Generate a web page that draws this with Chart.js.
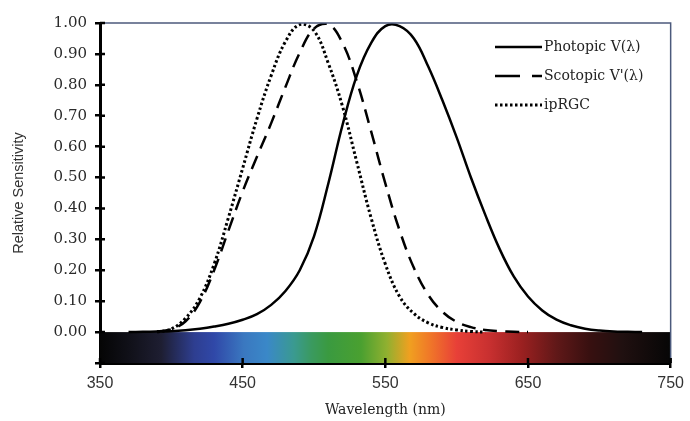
<!DOCTYPE html>
<html>
<head>
<meta charset="utf-8">
<script src="https://cdn.jsdelivr.net/npm/chart.js@4.4.0/dist/chart.umd.min.js"></script>
<style>
  body { margin: 0; background: #fff; }
  #box { width: 690px; height: 421px; }
</style>
</head>
<body>
<div id="box"><canvas id="mycanvas"></canvas></div>
<script>
// wavelength grid (nm)
var wavelengths = [350, 360, 370, 380, 390, 400, 410, 420, 430, 440,
                   450, 460, 470, 480, 490, 500, 510, 520, 530, 540,
                   550, 560, 570, 580, 590, 600, 610, 620, 630, 640,
                   650, 660, 670, 680, 690, 700, 710, 720, 730, 740, 750];

var photopic = [null, null, 0, 0.001, 0.002, 0.003, 0.006, 0.011, 0.018, 0.027,
                0.04, 0.058, 0.088, 0.133, 0.2, 0.31, 0.48, 0.67, 0.83, 0.935,
                0.99, 0.99, 0.95, 0.86, 0.75, 0.63, 0.5, 0.38, 0.27, 0.18,
                0.115, 0.07, 0.04, 0.022, 0.011, 0.005, 0.002, 0.001, 0, null, null];

var scotopic = [null, null, null, null, 0.002, 0.009, 0.035, 0.097, 0.2, 0.328,
                0.455, 0.567, 0.676, 0.793, 0.904, 0.982, 0.997, 0.935, 0.811, 0.65,
                0.481, 0.329, 0.208, 0.121, 0.066, 0.033, 0.016, 0.007, 0.003, 0.001,
                0, null, null, null, null, null, null, null, null, null, null];

var iprgc = [null, null, null, null, 0, 0.01, 0.045, 0.11, 0.22, 0.37,
             0.53, 0.69, 0.83, 0.94, 0.995, 0.975, 0.87, 0.73, 0.55, 0.37,
             0.22, 0.115, 0.06, 0.03, 0.015, 0.007, 0.002, 0, null, null,
             null, null, null, null, null, null, null, null, null, null, null];

var seriesNames = ['Photopic V(\u03bb)', 'Scotopic V\'(\u03bb)', 'ipRGC'];
var xTicks = [350, 450, 550, 650, 750];

function toPoints(vals) {
	var pts = [];
	for (var i = 0; i < wavelengths.length; i++) {
		pts.push({x: wavelengths[i], y: vals[i]});
	}
	return pts;
}

// colour band under the zero line
var spectrumPlugin = {
	id: 'spectrum',
	beforeDatasetsDraw: function(chart) {
		var ctx = chart.ctx, xs = chart.scales.x, ys = chart.scales.y;
		var x0 = xs.getPixelForValue(350), x1 = xs.getPixelForValue(750);
		var y0 = ys.getPixelForValue(0), y1 = ys.getPixelForValue(-0.1);
		var g = ctx.createLinearGradient(x0, 0, x1, 0);
		var stops = [
			[350, '#050505'], [370, '#101018'], [393, '#1e1e32'], [416, '#2e3e90'],
			[430, '#3048a8'], [451, '#3a78c0'], [467, '#3a88c8'], [486, '#3a9a90'],
			[498, '#3a9a60'], [510, '#3a9a40'], [533, '#4aa030'], [551, '#90b030'],
			[567, '#f0a020'], [581, '#f07828'], [600, '#e84038'], [623, '#c83030'],
			[646, '#9a2020'], [670, '#601818'], [693, '#381010'], [716, '#201010'],
			[750, '#060606']
		];
		stops.forEach(function(s) { g.addColorStop((s[0] - 350) / 400, s[1]); });
		ctx.save();
		ctx.fillStyle = g;
		ctx.fillRect(x0, y0, x1 - x0, y1 - y0);
		ctx.restore();
	},
	afterDraw: function(chart) {
		var ctx = chart.ctx, xs = chart.scales.x, ys = chart.scales.y, a = chart.chartArea;
		ctx.save();
		// thin frame top & right
		ctx.strokeStyle = '#4c5a7c';
		ctx.lineWidth = 1.5;
		ctx.beginPath();
		ctx.moveTo(a.left, a.top);
		ctx.lineTo(a.right, a.top);
		ctx.lineTo(a.right, a.bottom);
		ctx.stroke();
		// inner halves of tick marks
		ctx.strokeStyle = '#000';
		ctx.lineWidth = 2.5;
		ctx.beginPath();
		ys.ticks.forEach(function(t) {
			var y = ys.getPixelForValue(t.value);
			ctx.moveTo(a.left, y); ctx.lineTo(a.left + 5, y);
		});
		xTicks.forEach(function(v) {
			var x = xs.getPixelForValue(v);
			ctx.moveTo(x, a.bottom); ctx.lineTo(x, a.bottom - 5);
		});
		ctx.stroke();
		// legend inside the plot
		var lx = 495, lw = 47, ly = 47, step = 29;
		ctx.font = '14px "DejaVu Serif"';
		ctx.fillStyle = '#222';
		ctx.textBaseline = 'middle';
		chart.data.datasets.forEach(function(ds, i) {
			var y = ly + i * step;
			ctx.setLineDash(ds.legendDash || ds.borderDash || []);
			ctx.lineWidth = ds.borderWidth;
			ctx.beginPath();
			ctx.moveTo(lx, y); ctx.lineTo(lx + lw, y);
			ctx.stroke();
			ctx.setLineDash([]);
			ctx.fillText(ds.label, lx + lw + 2, y);
		});
		ctx.restore();
	}
};

var ctx = document.getElementById('mycanvas');

var chart = new Chart(ctx, {
	type: 'line',
	data: {
		datasets: [
			{
				label: seriesNames[0],
				data: toPoints(photopic),
				borderColor: '#000',
				borderWidth: 2.5,
				borderDash: [],
				pointRadius: 0,
				tension: 0.4
			},
			{
				label: seriesNames[1],
				data: toPoints(scotopic),
				borderColor: '#000',
				borderWidth: 2.5,
				borderDash: [14, 8],
				legendDash: [25, 12, 10, 0],
				pointRadius: 0,
				tension: 0.4
			},
			{
				label: seriesNames[2],
				data: toPoints(iprgc),
				borderColor: '#000',
				borderWidth: 3,
				borderDash: [2.5, 2.5],
				pointRadius: 0,
				tension: 0.4
			}
		]
	},
	options: {
		responsive: true,
		maintainAspectRatio: false,
		animation: false,
		layout: { padding: { left: 0, top: 23, right: 18, bottom: 0 } },
		plugins: { legend: { display: false }, tooltip: { enabled: false } },
		scales: {
			x: {
				type: 'linear',
				min: 350,
				max: 750,
				afterFit: function(s) { s.height = 58; },
				afterBuildTicks: function(s) {
					s.ticks = xTicks.map(function(v) { return {value: v}; });
				},
				border: { color: '#000', width: 3 },
				grid: { drawOnChartArea: false, color: '#000', lineWidth: 2.5, tickLength: 5 },
				ticks: {
					color: '#333',
					padding: 6,
					font: { family: '"Liberation Sans", sans-serif', size: 16 },
					maxRotation: 0
				},
				title: {
					display: true,
					text: 'Wavelength (nm)',
					color: '#222',
					font: { family: '"DejaVu Serif", serif', size: 14 },
					padding: { top: 0, bottom: 2 }
				}
			},
			y: {
				min: -0.1,
				max: 1.0,
				afterFit: function(s) { s.width = 100; },
				border: { color: '#000', width: 3 },
				grid: { drawOnChartArea: false, color: '#000', lineWidth: 2.5, tickLength: 5 },
				ticks: {
					stepSize: 0.1,
					color: '#2a2a2a',
					padding: 8,
					font: { family: '"DejaVu Serif", serif', size: 15 },
					callback: function(v) { return v < -0.05 ? '' : v.toFixed(2); }
				},
				title: {
					display: true,
					text: 'Relative Sensitivity',
					color: '#333',
					font: { family: '"Liberation Sans", sans-serif', size: 14.5 },
					padding: { top: 10, bottom: 0 }
				}
			}
		}
	},
	plugins: [spectrumPlugin]
});
</script>
</body>
</html>
